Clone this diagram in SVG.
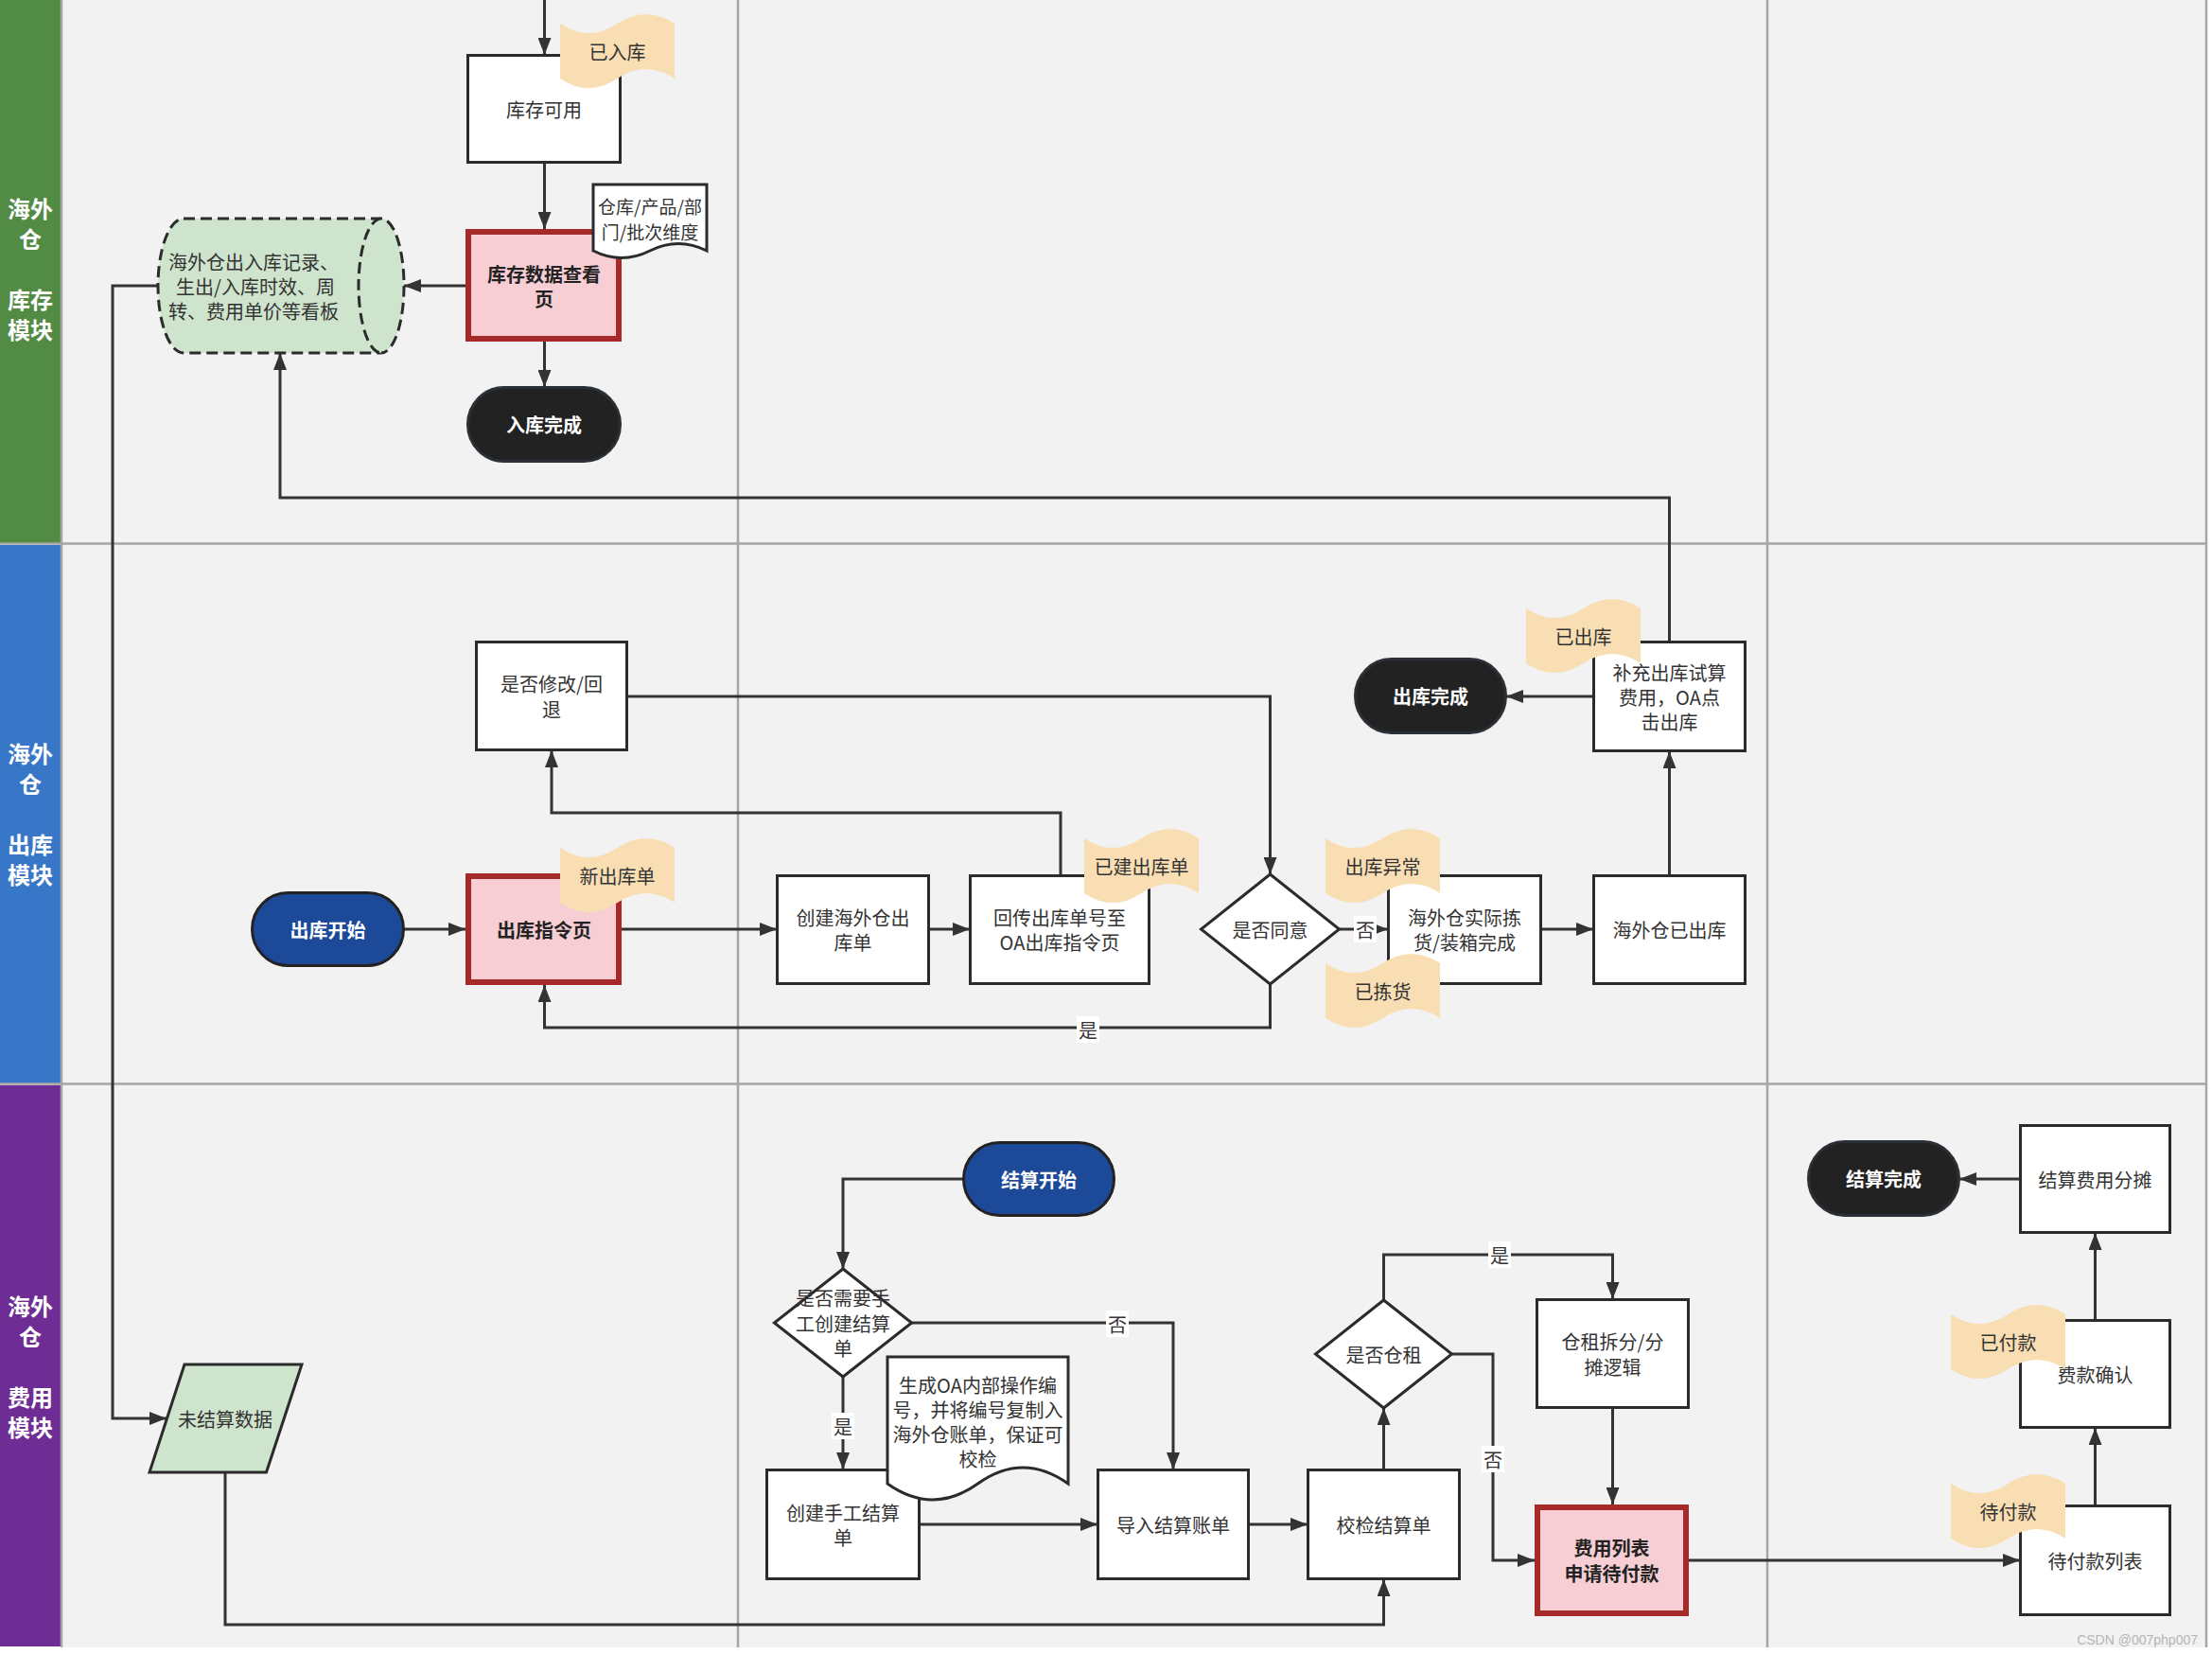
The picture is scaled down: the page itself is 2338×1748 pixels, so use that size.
<svg xmlns="http://www.w3.org/2000/svg" width="2338" height="1748" viewBox="0 0 2338 1748">
<style>
.box{fill:#fff;stroke:#2b2b2b;stroke-width:3}
.hl{fill:#f7ced4;stroke:#a72a2a;stroke-width:6}
.term{fill:#222;stroke:#2b2f36;stroke-width:3}
.start{fill:#1d4999;stroke:#222;stroke-width:3}
.tag{fill:#f9deb4}
.doc{fill:#fff;stroke:#2b2b2b;stroke-width:3}
.cyl{fill:#cfe4cc;stroke:#2b2b2b;stroke-width:3;stroke-dasharray:12 6}
.para{fill:#cfe4cc;stroke:#2b2b2b;stroke-width:3}
.t{font-family:"Noto Sans CJK SC","Noto Sans",sans-serif;font-size:20px;fill:#333;text-anchor:middle;dominant-baseline:central}
.b{font-weight:bold;fill:#222}
.w{font-weight:bold;fill:#fff}
.lane{font-family:"Noto Sans CJK SC","Noto Sans",sans-serif;font-size:24px;font-weight:bold;fill:#fff;text-anchor:middle;dominant-baseline:central}
.edge{fill:none;stroke:#333;stroke-width:3}
.sep{stroke:#a6a6a6;stroke-width:2.5;fill:none}
.lb{fill:#fff}
</style>
<defs>
<marker id="ar" markerUnits="userSpaceOnUse" markerWidth="18" markerHeight="14" refX="18" refY="7" orient="auto">
<path d="M0,0 L18,7 L0,14 Z" fill="#333"/>
</marker>
<path id="tape" d="M0,12 Q30,32 60.5,12 Q91,-8 121,12 L121,70 Q91,50 60.5,70 Q30,90 0,70 Z"/>
</defs>

<!-- background and lanes -->
<g id="lanes">
<rect x="0" y="0" width="2338" height="1748" fill="#ffffff"/>
<rect x="0" y="0" width="2333" height="1741" fill="#f2f2f2"/>
<rect x="0" y="0" width="64" height="574" fill="#518b44"/>
<rect x="0" y="576" width="64" height="569" fill="#3877c8"/>
<rect x="0" y="1147" width="64" height="593" fill="#6d2d94"/>
<path class="sep" d="M0,574.5 H2333 M0,1145.5 H2333 M65,0 V1741 M780,0 V1741 M1868,0 V1741 M2332,0 V1741"/>
<text class="lane" x="32"><tspan x="32" y="219">海外</tspan><tspan x="32" y="251">仓</tspan><tspan x="32" y="315">库存</tspan><tspan x="32" y="347">模块</tspan></text>
<text class="lane" x="32"><tspan x="32" y="795">海外</tspan><tspan x="32" y="827">仓</tspan><tspan x="32" y="891">出库</tspan><tspan x="32" y="923">模块</tspan></text>
<text class="lane" x="32"><tspan x="32" y="1379">海外</tspan><tspan x="32" y="1411">仓</tspan><tspan x="32" y="1475">费用</tspan><tspan x="32" y="1507">模块</tspan></text>
</g>

<!-- connectors -->
<g id="connectors">
<path class="edge" d="M575.5,0 V58" marker-end="url(#ar)"/>
<path class="edge" d="M575.5,172 V242" marker-end="url(#ar)"/>
<path class="edge" d="M575.5,361 V409" marker-end="url(#ar)"/>
<path class="edge" d="M492,302 H427" marker-end="url(#ar)"/>
<path class="edge" d="M167,302 H119 V1499 H176" marker-end="url(#ar)"/>
<path class="edge" d="M1764.5,678 V526 H296 V373" marker-end="url(#ar)"/>
<path class="edge" d="M427,982 H492" marker-end="url(#ar)"/>
<path class="edge" d="M657,982 H821" marker-end="url(#ar)"/>
<path class="edge" d="M982,982 H1025" marker-end="url(#ar)"/>
<path class="edge" d="M1121,925 V859 H583 V793" marker-end="url(#ar)"/>
<path class="edge" d="M663,736 H1342.5 V924" marker-end="url(#ar)"/>
<path class="edge" d="M1342.5,1040 V1086 H575.5 V1041" marker-end="url(#ar)"/>
<path class="edge" d="M1415.5,982 H1467" marker-end="url(#ar)"/>
<path class="edge" d="M1629,982 H1684" marker-end="url(#ar)"/>
<path class="edge" d="M1764.5,925 V794" marker-end="url(#ar)"/>
<path class="edge" d="M1684,736 H1592" marker-end="url(#ar)"/>
<path class="edge" d="M1018,1246 H891 V1341" marker-end="url(#ar)"/>
<path class="edge" d="M963.6,1398 H1240 V1553" marker-end="url(#ar)"/>
<path class="edge" d="M891,1455 V1553" marker-end="url(#ar)"/>
<path class="edge" d="M972,1611 H1160" marker-end="url(#ar)"/>
<path class="edge" d="M1320,1611 H1382" marker-end="url(#ar)"/>
<path class="edge" d="M1462.5,1553 V1488" marker-end="url(#ar)"/>
<path class="edge" d="M1462.5,1374 V1326 H1704.5 V1373" marker-end="url(#ar)"/>
<path class="edge" d="M1534.5,1431 H1578 V1649 H1622" marker-end="url(#ar)"/>
<path class="edge" d="M1704.5,1488 V1590" marker-end="url(#ar)"/>
<path class="edge" d="M1785,1649 H2135" marker-end="url(#ar)"/>
<path class="edge" d="M2214.5,1591 V1509" marker-end="url(#ar)"/>
<path class="edge" d="M2214.5,1395 V1303" marker-end="url(#ar)"/>
<path class="edge" d="M2135,1246 H2071" marker-end="url(#ar)"/>
<path class="edge" d="M238,1556 V1717 H1462.5 V1669" marker-end="url(#ar)"/>
<g id="edge-labels">
<rect class="lb" x="1431" y="968" width="24" height="28"/><text class="t" x="1443" y="982">否</text>
<rect class="lb" x="1138" y="1074" width="24" height="28"/><text class="t" x="1150" y="1088">是</text>
<rect class="lb" x="1169" y="1385" width="24" height="28"/><text class="t" x="1181" y="1399">否</text>
<rect class="lb" x="879" y="1493" width="24" height="28"/><text class="t" x="891" y="1507">是</text>
<rect class="lb" x="1573" y="1312" width="24" height="28"/><text class="t" x="1585" y="1326">是</text>
<rect class="lb" x="1566" y="1528" width="24" height="28"/><text class="t" x="1578" y="1542">否</text>
</g>
</g>

<!-- inventory lane -->
<g id="n-kucun-keyong">
<rect class="box" x="494.5" y="58.5" width="161" height="113"/>
<text class="t" x="575" y="115">库存可用</text>
</g>
<g id="n-kucun-page">
<rect class="hl" x="495" y="245" width="159" height="113"/>
<text class="t b" x="575"><tspan x="575" y="289">库存数据查看</tspan><tspan x="575" y="315">页</tspan></text>
</g>
<g id="n-ruku-done">
<rect class="term" x="494.5" y="409.5" width="161" height="78" rx="38" ry="39"/>
<text class="t w" x="575" y="448.5">入库完成</text>
</g>
<g id="n-board">
<path class="cyl" d="M194,231 H403 A24,71 0 0 1 403,373 H194 A27,71 0 0 1 194,231 Z"/>
<path class="cyl" fill="none" d="M403,231 A24,71 0 0 0 403,373"/>
<text class="t" x="268"><tspan x="268" y="276">海外仓出入库记录、</tspan><tspan x="270" y="302">生出/入库时效、周</tspan><tspan x="268" y="328">转、费用单价等看板</tspan></text>
</g>
<g id="n-dim-doc">
<path class="doc" d="M627,195 H747 V265 Q717,250 687,265 Q657,280 627,265 Z"/>
<text class="t" x="687" style="font-size:19px"><tspan x="687" y="217">仓库/产品/部</tspan><tspan x="687" y="244">门/批次维度</tspan></text>
</g>
<g id="tag-yiruku">
<use href="#tape" class="tag" x="592" y="13"/>
<text class="t" x="652.5" y="54">已入库</text>
</g>

<!-- outbound lane -->
<g id="n-chuku-start">
<rect class="start" x="266.5" y="943.5" width="160" height="77" rx="38" ry="38.5"/>
<text class="t w" x="346.5" y="982">出库开始</text>
</g>
<g id="n-chuku-page">
<rect class="hl" x="495" y="926" width="159" height="112"/>
<text class="t b" x="575" y="982">出库指令页</text>
</g>
<g id="n-modify">
<rect class="box" x="503.5" y="678.5" width="159" height="114"/>
<text class="t" x="583"><tspan x="583" y="722">是否修改/回</tspan><tspan x="583" y="749">退</tspan></text>
</g>
<g id="n-create-out">
<rect class="box" x="821.5" y="925.5" width="160" height="114"/>
<text class="t" x="901.5"><tspan x="901.5" y="969">创建海外仓出</tspan><tspan x="901.5" y="995">库单</tspan></text>
</g>
<g id="n-return-oa">
<rect class="box" x="1025.5" y="925.5" width="189" height="114"/>
<text class="t" x="1120"><tspan x="1120" y="969">回传出库单号至</tspan><tspan x="1120" y="995">OA出库指令页</tspan></text>
</g>
<g id="n-agree">
<path class="box" d="M1342.5,924 L1415.5,982 L1342.5,1040 L1269.5,982 Z"/>
<text class="t" x="1342.5" y="982">是否同意</text>
</g>
<g id="n-pick">
<rect class="box" x="1467.5" y="925.5" width="161" height="114"/>
<text class="t" x="1548"><tspan x="1548" y="969">海外仓实际拣</tspan><tspan x="1548" y="995">货/装箱完成</tspan></text>
</g>
<g id="n-shipped">
<rect class="box" x="1684.5" y="925.5" width="160" height="114"/>
<text class="t" x="1764.5" y="982">海外仓已出库</text>
</g>
<g id="n-supplement">
<rect class="box" x="1684.5" y="678.5" width="160" height="115"/>
<text class="t" x="1764.5"><tspan x="1764.5" y="710">补充出库试算</tspan><tspan x="1764.5" y="736">费用，OA点</tspan><tspan x="1764.5" y="762">击出库</tspan></text>
</g>
<g id="n-chuku-done">
<rect class="term" x="1432.5" y="696.5" width="159" height="78" rx="38" ry="39"/>
<text class="t w" x="1512" y="735.5">出库完成</text>
</g>
<g id="tag-xinchuku">
<use href="#tape" class="tag" x="592" y="884"/>
<text class="t" x="652.5" y="925">新出库单</text>
</g>
<g id="tag-yijian">
<use href="#tape" class="tag" x="1146" y="874"/>
<text class="t" x="1206.5" y="915">已建出库单</text>
</g>
<g id="tag-yichang">
<use href="#tape" class="tag" x="1401" y="874"/>
<text class="t" x="1461.5" y="915">出库异常</text>
</g>
<g id="tag-jianhuo">
<use href="#tape" class="tag" x="1401" y="1006"/>
<text class="t" x="1461.5" y="1047">已拣货</text>
</g>
<g id="tag-yichuku">
<use href="#tape" class="tag" x="1613" y="631"/>
<text class="t" x="1673.5" y="672">已出库</text>
</g>

<!-- settlement lane -->
<g id="n-unsettled">
<path class="para" d="M195,1442 H319 L281.5,1556 H158 Z"/>
<text class="t" x="238" y="1499">未结算数据</text>
</g>
<g id="n-settle-start">
<rect class="start" x="1018.5" y="1207.5" width="159" height="77" rx="38" ry="38.5"/>
<text class="t w" x="1098" y="1246">结算开始</text>
</g>
<g id="n-need-manual">
<path class="box" d="M891,1341 L963.6,1398 L891,1455 L818.4,1398 Z"/>
<text class="t" x="891"><tspan x="891" y="1371">是否需要手</tspan><tspan x="891" y="1398">工创建结算</tspan><tspan x="891" y="1424">单</tspan></text>
</g>
<g id="n-manual-create">
<rect class="box" x="810.5" y="1553.5" width="161" height="115"/>
<text class="t" x="891"><tspan x="891" y="1598">创建手工结算</tspan><tspan x="891" y="1624">单</tspan></text>
</g>
<g id="n-oa-doc">
<path class="doc" d="M938,1434 H1129 V1568 Q1081,1534 1033.5,1568 Q986,1602 938,1568 Z"/>
<text class="t" x="1033.5"><tspan x="1033.5" y="1463">生成OA内部操作编</tspan><tspan x="1033.5" y="1489">号，并将编号复制入</tspan><tspan x="1033.5" y="1515">海外仓账单，保证可</tspan><tspan x="1033.5" y="1541">校检</tspan></text>
</g>
<g id="n-import">
<rect class="box" x="1160.5" y="1553.5" width="159" height="115"/>
<text class="t" x="1240" y="1611">导入结算账单</text>
</g>
<g id="n-check">
<rect class="box" x="1382.5" y="1553.5" width="160" height="115"/>
<text class="t" x="1462.5" y="1611">校检结算单</text>
</g>
<g id="n-rent">
<path class="box" d="M1462.5,1374 L1534.5,1431 L1462.5,1488 L1390.5,1431 Z"/>
<text class="t" x="1462.5" y="1431">是否仓租</text>
</g>
<g id="n-rent-split">
<rect class="box" x="1624.5" y="1373.5" width="160" height="114"/>
<text class="t" x="1704.5"><tspan x="1704.5" y="1417">仓租拆分/分</tspan><tspan x="1704.5" y="1444">摊逻辑</tspan></text>
</g>
<g id="n-fee-list">
<rect class="hl" x="1625" y="1593" width="157" height="112"/>
<text class="t b" x="1703.5"><tspan x="1703.5" y="1635">费用列表</tspan><tspan x="1703.5" y="1662">申请待付款</tspan></text>
</g>
<g id="n-pending-list">
<rect class="box" x="2135.5" y="1591.5" width="158" height="115"/>
<text class="t" x="2214.5" y="1649">待付款列表</text>
</g>
<g id="n-confirm">
<rect class="box" x="2135.5" y="1395.5" width="158" height="113"/>
<text class="t" x="2214.5" y="1452">费款确认</text>
</g>
<g id="n-allocate">
<rect class="box" x="2135.5" y="1189.5" width="158" height="113"/>
<text class="t" x="2214.5" y="1246">结算费用分摊</text>
</g>
<g id="n-settle-done">
<rect class="term" x="1911.5" y="1206.5" width="159" height="78" rx="38" ry="39"/>
<text class="t w" x="1991" y="1245.5">结算完成</text>
</g>
<g id="tag-yifu">
<use href="#tape" class="tag" x="2062" y="1377"/>
<text class="t" x="2122.5" y="1418">已付款</text>
</g>
<g id="tag-daifu">
<use href="#tape" class="tag" x="2062" y="1556"/>
<text class="t" x="2122.5" y="1597">待付款</text>
</g>
<text x="2323" y="1733" font-family="Liberation Sans, sans-serif" font-size="14" fill="#b5b5b5" text-anchor="end" dominant-baseline="central">CSDN @007php007</text>
</svg>
